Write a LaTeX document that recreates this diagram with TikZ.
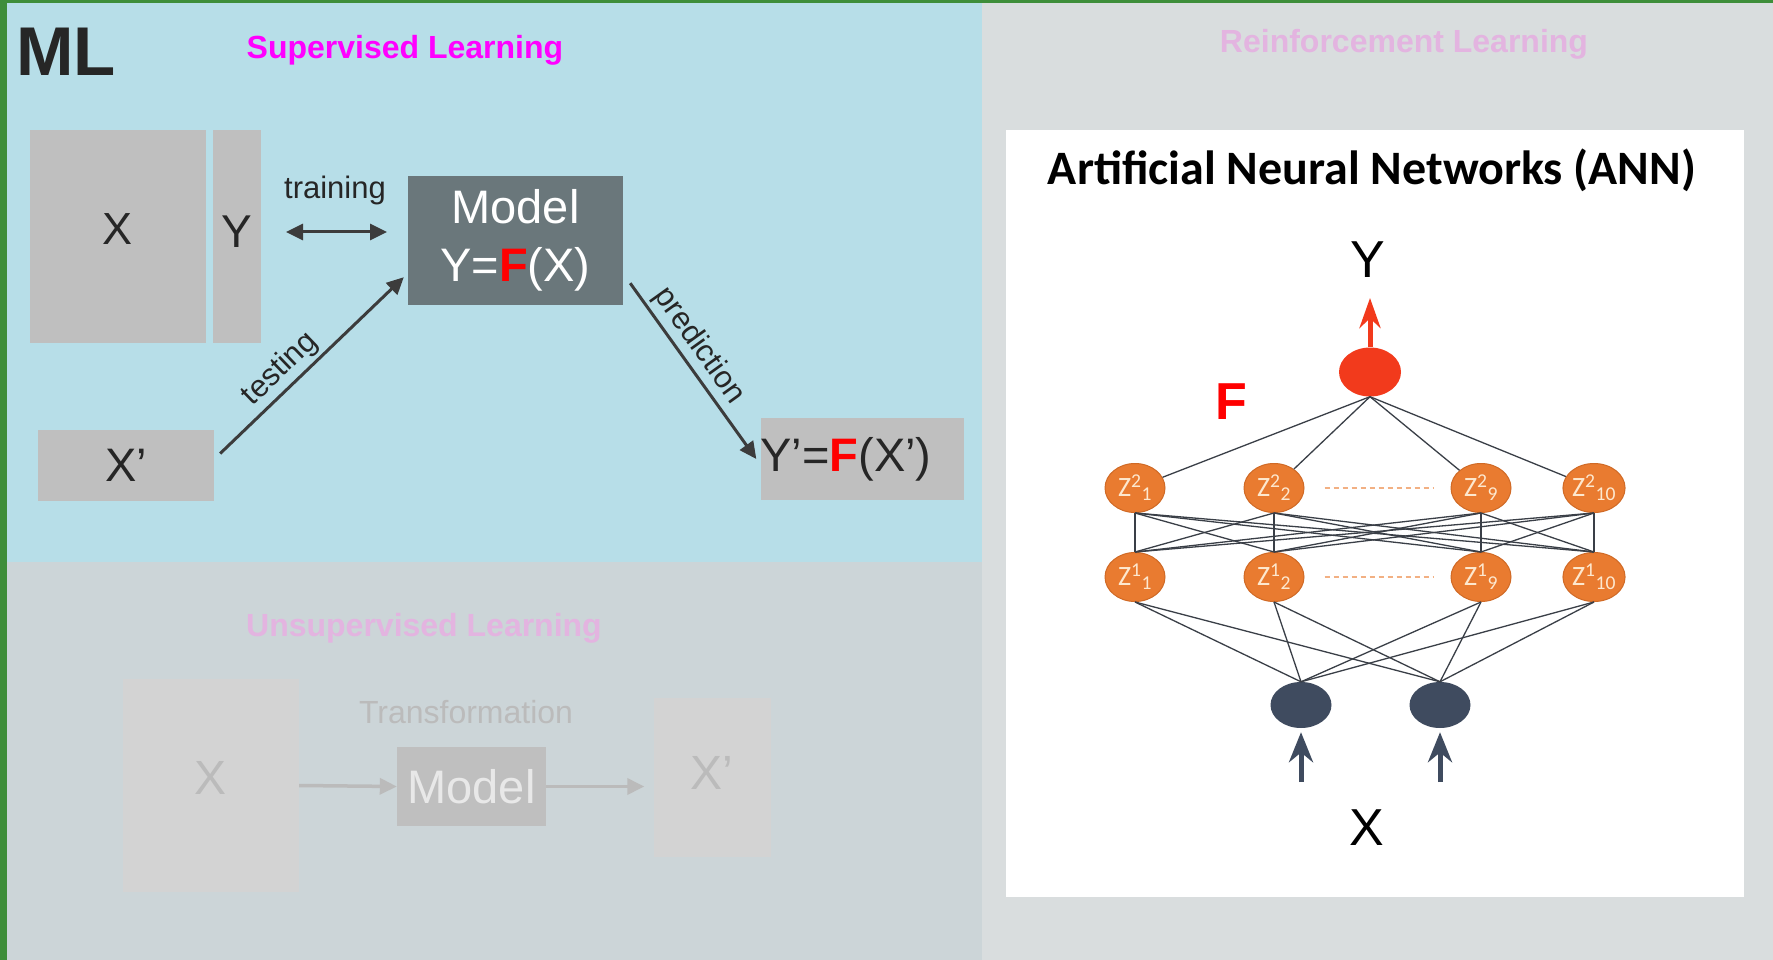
\documentclass[tikz,border=0pt]{standalone}
\usepackage{fontspec}
\setmainfont{Liberation Sans}
\newfontfamily\calibri{Carlito}
\usetikzlibrary{arrows.meta,shapes.geometric,positioning}

\definecolor{mlgreen}{HTML}{3E8E3A}
\definecolor{suppanel}{HTML}{B7DEE8}
\definecolor{unspanel}{HTML}{CCD5D8}
\definecolor{rlpanel}{HTML}{D9DDDE}
\definecolor{boxgrey}{HTML}{BFBFBF}
\definecolor{modelgrey}{HTML}{6A777B}
\definecolor{textdark}{HTML}{262626}
\definecolor{supmagenta}{HTML}{FF00FF}
\definecolor{fadepink}{HTML}{E3B4E0}
\definecolor{fadebox}{HTML}{D3D3D3}
\definecolor{fadetext}{HTML}{BBBBBB}
\definecolor{fademodel}{HTML}{E8E8E8}
\definecolor{neuron}{HTML}{E97B30}
\definecolor{neuronedge}{HTML}{D06A26}
\definecolor{neurontext}{HTML}{FDE8CF}
\definecolor{outred}{HTML}{F23A1C}
\definecolor{inblue}{HTML}{3F4B5F}
\definecolor{wire}{HTML}{3A3F47}

\newcommand{\pxfont}[1]{\fontsize{#1}{#1}\selectfont}

\begin{document}
\begin{tikzpicture}[x=1pt,y=-1pt,>={Triangle[length=17pt,width=16pt]},
    databox/.style={fill=boxgrey,inner sep=0pt,text=textdark},
    fadedbox/.style={fill=fadebox,inner sep=0pt,text=fadetext},
    flow/.style={draw=textdark!90,line width=3pt,->},
    fadeflow/.style={draw=fadetext,line width=3.5pt,->},
    zunit/.style={ellipse,fill=neuron,draw=neuronedge,line width=1pt,inner sep=0pt,
        minimum width=60pt,minimum height=49pt,text=neurontext,font=\calibri\pxfont{28}},
    link/.style={draw=wire,line width=1.3pt},
    dots/.style={draw=neuron!60,line width=1.5pt,dash pattern=on 5pt off 4pt}]
        \useasboundingbox (0,0) rectangle (1773,960);
        %% Panels
        \fill[suppanel] (7,3) rectangle (982,562);
        \fill[unspanel] (7,562) rectangle (982,960);
        \fill[rlpanel] (982,3) rectangle (1773,960);
        \fill[mlgreen] (0,0) rectangle (1773,3);
        \fill[mlgreen] (0,0) rectangle (7,960);
        \fill[white] (1006,130) rectangle (1744,897);

        %% Supervised learning
        \node[anchor=base west,inner sep=0pt,font=\bfseries\pxfont{69},text=textdark] (mltitle) at (16,76) {ML};
        \node[anchor=base,font=\bfseries\pxfont{32},text=supmagenta] (suptitle) at (405,59) {Supervised Learning};
        \node[databox,minimum width=176pt,minimum height=213pt,text depth=14pt,font=\pxfont{45}] (xbox) at (118,236.5) {X};
        \node[databox,minimum width=48pt,minimum height=213pt,text depth=9pt,font=\pxfont{46}] (ybox) at (236.5,236.5) {Y};
        \node[fill=modelgrey,text=white,inner sep=0pt,minimum width=215pt,minimum height=129pt,
            align=center,font=\fontsize{47}{58}\selectfont] (model) at (515.5,240.5) {Model\\Y={\color{red}\bfseries F}(X)};
        \node[databox,minimum width=176pt,minimum height=71pt,font=\pxfont{47}] (xprime) at (126,465.5) {X'};
        \node[databox,minimum width=203pt,minimum height=82pt] (pred) at (862,459) {};
            \node[anchor=west,inner sep=0pt,font=\pxfont{47},text=textdark] (predtext) at (pred.west) {Y'={\color{red}\bfseries F}(X')};

        \coordinate (trainL) at (286,232);
        \coordinate (trainR) at (387,232);
        \draw[flow,<->] (trainL) -- (trainR);
        \node[font=\pxfont{31},text=textdark] (trainlbl) at (335,190) {training};
        \draw[flow] ([shift={(6,-12)}]xprime.east) -- ([shift={(-4,-28)}]model.south west)
            node[pos=0.4,above,sloped,font=\pxfont{31},text=textdark] (testlbl) {testing};
        \draw[flow] ([shift={(7,-22)}]model.south east) -- ([xshift=-4pt]pred.west)
            node[pos=0.42,above,sloped,font=\pxfont{31},text=textdark] (predlbl) {prediction};

        %% Unsupervised learning
        \node[anchor=base,font=\bfseries\pxfont{32},text=fadepink] (unsuptitle) at (424,636) {Unsupervised Learning};
        \node[fadedbox,minimum width=176pt,minimum height=213pt,text depth=16pt,font=\pxfont{48}] (ux) at (211,785.5) {X};
        \node[fill=boxgrey,text=fademodel,inner sep=0pt,minimum width=149pt,minimum height=79pt,font=\pxfont{47}] (umodel) at (471.5,786.5) {Model};
        \node[fadedbox,minimum width=117pt,minimum height=159pt,text depth=9pt,font=\pxfont{48}] (uxp) at (712,777.5) {X'};
        \node[anchor=base,font=\pxfont{32},text=fadetext] (transf) at (466,723) {Transformation};
        \draw[fadeflow] (ux.east) -- (umodel.west);
        \draw[fadeflow,shorten >=9pt] (umodel.east) -- (umodel.east -| uxp.west);

        %% Reinforcement learning / ANN
        \node[anchor=base,font=\bfseries\pxfont{32},text=fadepink] (rltitle) at (1404,53) {Reinforcement Learning};
        \node[anchor=base,font=\calibri\bfseries\pxfont{48}] (anntitle) at (1372,185) {Artificial Neural Networks (ANN)};

        \node[ellipse,fill=outred,inner sep=0pt,minimum width=62pt,minimum height=49pt] (out) at (1370,372) {};
        \foreach \n/\x in {1/1135,2/1274,9/1481,10/1594}{
            \node[zunit] (zb\n) at (\x,488) {Z\textsuperscript{2}\textsubscript{\n}};
            \node[zunit] (za\n) at (\x,577) {Z\textsuperscript{1}\textsubscript{\n}};
        }
        \node[ellipse,fill=inblue,inner sep=0pt,minimum width=61pt,minimum height=46pt] (in1) at (1301,705) {};
        \node[ellipse,fill=inblue,inner sep=0pt,minimum width=61pt,minimum height=46pt] (in2) at (1440,705) {};

        \foreach \i in {1,2,9,10}{
            \draw[link] (zb\i) -- (out.south);
            \foreach \j in {1,2,9,10}
                \draw[link] (zb\i.south) -- (za\j.north);
            \draw[link] (za\i.south) -- (in1.north);
            \draw[link] (za\i.south) -- (in2.north);
        }
        \draw[dots] ([xshift=20pt]zb2.east) -- ([xshift=-17pt]zb9.west);
        \draw[dots] ([xshift=20pt]za2.east) -- ([xshift=-17pt]za9.west);

        \coordinate (ytip) at (1370,298);
        \draw[outred,line width=5pt,-{Stealth[length=30pt,width=21pt]}] (out.north) -- (ytip);
        \coordinate (xin1) at (1301,782);
        \coordinate (xin2) at (1440,782);
        \draw[inblue,line width=5pt,-{Stealth[length=30pt,width=24pt]}] (xin1) -- ([yshift=-4pt]in1.south);
        \draw[inblue,line width=5pt,-{Stealth[length=30pt,width=24pt]}] (xin2) -- ([yshift=-4pt]in2.south);

        %% Labels
        \node[anchor=base,font=\pxfont{52}] (ylbl) at (1368,278) {Y};
        \node[anchor=base,font=\pxfont{52}] (xlbl) at (1367,845) {X};
        \node[anchor=base,font=\bfseries\pxfont{52},text=red] (flbl) at (1231,419) {F};
    \end{tikzpicture}
\end{document}
